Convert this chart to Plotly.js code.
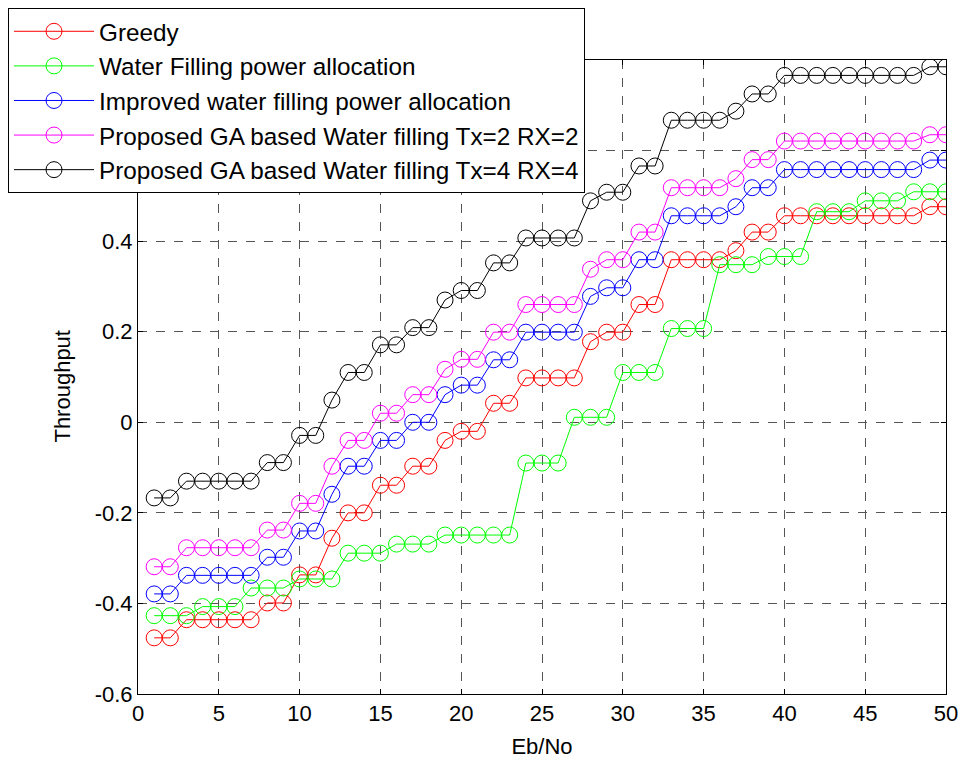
<!DOCTYPE html>
<html>
<head>
<meta charset="utf-8">
<script src="https://cdn.plot.ly/plotly-3.0.1.min.js"></script>
<style>html,body{margin:0;padding:0;background:#fff;}#chart{width:959px;height:759px;}</style>
</head>
<body>
<div id="chart"></div>
<script>
const ebno = [1,2,3,4,5,6,7,8,9,10,11,12,13,14,15,16,17,18,19,20,21,22,23,24,25,26,27,28,29,30,31,32,33,34,35,36,37,38,39,40,41,42,43,44,45,46,47,48,49,50];

const greedy = [-0.476,-0.476,-0.436,-0.436,-0.436,-0.436,-0.436,-0.399,-0.399,-0.337,-0.337,-0.256,-0.200,-0.200,-0.139,-0.139,-0.097,-0.097,-0.040,-0.020,-0.020,0.042,0.042,0.098,0.098,0.098,0.098,0.178,0.199,0.199,0.260,0.260,0.359,0.359,0.359,0.359,0.379,0.420,0.420,0.456,0.456,0.456,0.456,0.456,0.456,0.456,0.456,0.456,0.476,0.476];

const waterFilling = [-0.427,-0.427,-0.427,-0.407,-0.407,-0.407,-0.366,-0.366,-0.366,-0.346,-0.346,-0.346,-0.289,-0.289,-0.289,-0.269,-0.269,-0.269,-0.249,-0.249,-0.249,-0.249,-0.249,-0.090,-0.090,-0.090,0.011,0.011,0.011,0.110,0.110,0.110,0.207,0.207,0.207,0.348,0.348,0.348,0.366,0.366,0.366,0.465,0.465,0.465,0.489,0.489,0.489,0.509,0.509,0.509];

const improved = [-0.379,-0.379,-0.338,-0.338,-0.338,-0.338,-0.338,-0.298,-0.298,-0.240,-0.240,-0.159,-0.097,-0.097,-0.040,-0.040,0.000,0.000,0.061,0.082,0.082,0.138,0.138,0.199,0.199,0.199,0.199,0.278,0.297,0.297,0.359,0.359,0.456,0.456,0.456,0.456,0.476,0.518,0.518,0.558,0.558,0.558,0.558,0.558,0.558,0.558,0.558,0.558,0.579,0.579];

const gaTx2 = [-0.319,-0.319,-0.277,-0.277,-0.277,-0.277,-0.277,-0.238,-0.238,-0.179,-0.179,-0.097,-0.040,-0.040,0.020,0.020,0.061,0.061,0.117,0.139,0.139,0.199,0.199,0.260,0.260,0.260,0.260,0.338,0.359,0.359,0.420,0.420,0.518,0.518,0.518,0.518,0.538,0.580,0.580,0.621,0.621,0.621,0.621,0.621,0.621,0.621,0.621,0.621,0.635,0.635];

const gaTx4 = [-0.167,-0.167,-0.130,-0.130,-0.130,-0.130,-0.130,-0.089,-0.089,-0.029,-0.029,0.049,0.110,0.110,0.171,0.171,0.209,0.209,0.270,0.291,0.291,0.352,0.352,0.407,0.407,0.407,0.407,0.489,0.508,0.508,0.566,0.566,0.667,0.667,0.667,0.667,0.687,0.725,0.725,0.766,0.766,0.766,0.766,0.766,0.766,0.766,0.766,0.766,0.785,0.785];

const names = ["Greedy","Water Filling power allocation","Improved water filling power allocation","Proposed GA based Water filling Tx=2 RX=2","Proposed GA based Water filling Tx=4 RX=4"];
const colors = ["#ff0000","#00ff00","#0000ff","#ff00ff","#000000"];
const series = [greedy, waterFilling, improved, gaTx2, gaTx4];

const yTickVals = [-0.6,-0.4,-0.2,0,0.2,0.4,0.6];
const yTickText = ["-0.6","-0.4","-0.2","0","0.2","0.4",""];
const xTickVals = [0,5,10,15,20,25,30,35,40,45,50];
const xTitle = "Eb/No";
const yTitle = "Throughput";

const traces = series.map((s,i)=>({
  x: ebno, y: s, name: names[i], type: "scatter", mode: "lines+markers",
  line: {color: colors[i], width: 1},
  marker: {symbol: "circle-open", size: 16, color: colors[i], line: {width: 1, color: colors[i]}}
}));

const fontFam = "Liberation Sans, Arial, sans-serif";
const layout = {
  width: 959, height: 759,
  margin: {l: 138, r: 13, t: 60, b: 65, autoexpand: false},
  paper_bgcolor: "#fff", plot_bgcolor: "#fff",
  font: {family: fontFam, size: 22, color: "#000"},
  showlegend: true,
  legend: {
    xref: "container", yref: "container",
    x: 8/959, y: 1 - 8/759, xanchor: "left", yanchor: "top",
    bgcolor: "#fff", bordercolor: "#000", borderwidth: 1,
    font: {family: fontFam, size: 24.3, color: "#000"},
    itemwidth: 80,
    tracegroupgap: 0
  },
  xaxis: {
    range: [0, 50], tickvals: xTickVals,
    ticks: "inside", ticklen: 5, tickcolor: "#000",
    showline: true, linecolor: "#000", linewidth: 1, mirror: "ticks",
    showgrid: true, gridcolor: "#555", griddash: "dash", gridwidth: 1,
    zeroline: false,
    title: {text: xTitle, font: {family: fontFam, size: 22}},
    tickfont: {family: fontFam, size: 22}
  },
  yaxis: {
    range: [-0.6, 0.8], tickvals: yTickVals, ticktext: yTickText,
    ticks: "inside", ticklen: 5, tickcolor: "#000",
    showline: true, linecolor: "#000", linewidth: 1, mirror: "ticks",
    showgrid: true, gridcolor: "#555", griddash: "dash", gridwidth: 1,
    zeroline: false,
    tickfont: {family: fontFam, size: 22}
  },
  annotations: [{
    text: yTitle, xref: "paper", yref: "paper",
    x: -0.094, y: 0.485, xanchor: "center", yanchor: "middle",
    textangle: -90, showarrow: false,
    font: {family: fontFam, size: 22, color: "#000"}
  }]
};

Plotly.newPlot("chart", traces, layout, {displayModeBar: false, staticPlot: true});
</script>
</body>
</html>
